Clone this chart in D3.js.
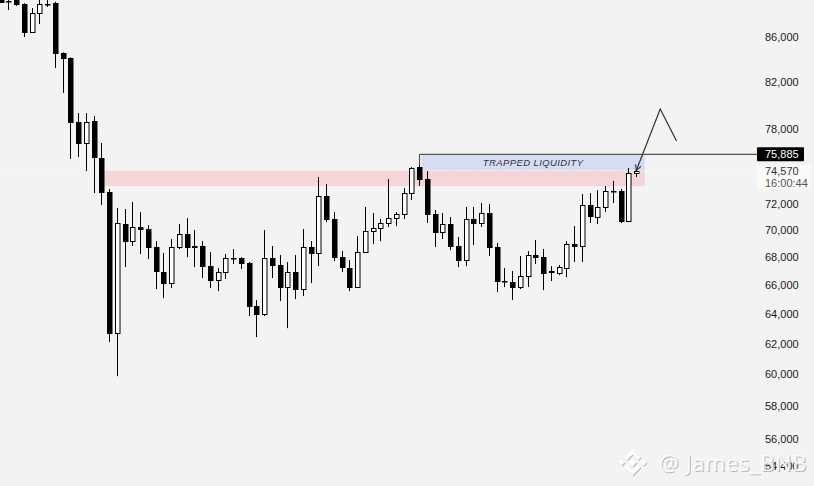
<!DOCTYPE html>
<html>
<head>
<meta charset="utf-8">
<script src="https://cdnjs.cloudflare.com/ajax/libs/d3/7.8.5/d3.min.js"></script>
<style>
body { margin: 0; background: #f3f3f3; }
svg { display: block; }
</style>
</head>
<body>
<div id="chart"></div>
<script>
var w = 814;
var h = 486;

// candles (one per bar, left to right)
var opens = [
  89850, 89400, 90030, 89080, 86460, 88230, 89080, 89180, 84550, 84100,
  78540, 76800, 78630, 75580, 72890, 62710, 70440, 69170, 70220, 70070,
  68730, 66930, 66140, 68730, 69690, 68810, 68810, 67350, 66360, 66930,
  67930, 67930, 67570, 64540, 63990, 67930, 67430, 65860, 66930, 65720,
  68730, 68300, 72580, 70820, 68000, 67210, 65860, 68370, 69920, 70140,
  70520, 70890, 71200, 72810, 74860, 73910, 71200, 69840, 70440, 68810,
  67790, 70820, 70520, 71270, 68730, 66290, 66210, 65860, 66640, 68150,
  68000, 67000, 66850, 67210, 68950, 68810, 71890, 70970, 71730, 72970,
  72970, 70670, 74380
];
var highs = [
  90400, 89900, 90200, 89150, 88700, 89460, 89460, 89300, 84600, 84150,
  79300, 79300, 79050, 76800, 73120, 71660, 71580, 72120, 71350, 70370,
  69170, 68300, 69320, 70440, 70890, 69990, 69170, 68370, 67210, 68220,
  68590, 68000, 67650, 64950, 69990, 68810, 68150, 67640, 68150, 70070,
  69170, 74070, 73510, 71350, 68440, 67790, 69550, 71730, 71270, 70820,
  73910, 71350, 73200, 74860, 75020, 74540, 71500, 71270, 70970, 69470,
  71730, 71730, 72040, 71960, 69030, 67210, 67000, 68080, 68440, 69250,
  68590, 67350, 67430, 69170, 70290, 72730, 72810, 73040, 73360, 73750,
  73120, 74780, 74700
];
var lows = [
  89180, 88510, 88900, 86000, 86370, 87200, 88800, 83200, 81010, 75500,
  75660, 74540, 72810, 71890, 62110, 59890, 67280, 68810, 68220, 67860,
  65720, 65090, 65790, 68590, 68000, 67280, 66500, 65790, 65580, 66430,
  67500, 67140, 63860, 62440, 63860, 66500, 64880, 63040, 65020, 65230,
  66140, 67350, 70590, 67710, 66930, 65580, 65790, 68370, 68950, 69170,
  70220, 70290, 70820, 72270, 73360, 70520, 68730, 69320, 68510, 67280,
  67350, 68880, 70220, 68080, 65510, 65860, 64950, 65720, 65860, 67500,
  65650, 66290, 66710, 66570, 67640, 67640, 70520, 70440, 71350, 72040,
  70520, 70590, 74070
];
var closes = [
  89250, 89370, 89080, 86460, 88230, 89080, 89050, 84550, 84100, 78540,
  76800, 78540, 75660, 72890, 62710, 70520, 69170, 70220, 70070, 68730,
  67000, 66140, 68730, 69690, 68730, 68730, 67350, 66360, 66930, 67930,
  67960, 67570, 64540, 63990, 67930, 67430, 65860, 66930, 65720, 68730,
  68300, 72580, 70820, 68000, 67280, 65860, 68370, 69920, 70140, 70520,
  70890, 71200, 72810, 74780, 73910, 71200, 69840, 70440, 68810, 67790,
  70820, 70520, 71270, 68730, 66290, 66300, 65860, 66640, 68150, 68000,
  66850, 66960, 67280, 68950, 68810, 71890, 71040, 71730, 72970, 72990,
  70670, 74380, 74570
];

var tickValues = [86000, 82000, 78000, 72000, 70000, 68000, 66000, 64000, 62000, 60000, 58000, 56000, 54400];

// zones: [from bar, to bar, low price, high price]
var redZone = [13.2, 83.1, 73360, 74600];
var liquidityZone = [54.3, 83.1, 74600, 75885];
var liquidityLevel = 75885;
var liquidityFrom = 54;
var lastPrice = 74570;
var lastTime = '16:00:44';

// projected move drawn by hand
var projBars = [82, 85.1, 87.2];
var projPrices = [74570, 79640, 76970];

var x = d3.scaleLinear().domain([0, 82]).range([0.7, 636.2]);
var y = d3.scaleLog().domain([54400, 86000]).range([466.3, 37]);

var svg = d3.select('#chart').append('svg')
  .attr('width', w)
  .attr('height', h)
  .style('font-family', '"Liberation Sans", Arial, sans-serif');

svg.append('rect')
  .attr('width', w)
  .attr('height', h)
  .attr('fill', '#f3f3f3');

// zones
svg.append('rect')
  .attr('x', x(redZone[0]))
  .attr('y', y(redZone[3]))
  .attr('width', x(redZone[1]) - x(redZone[0]))
  .attr('height', y(redZone[2]) - y(redZone[3]))
  .attr('fill', '#f6d5d8');

svg.append('rect')
  .attr('x', x(liquidityZone[0]))
  .attr('y', y(liquidityZone[3]))
  .attr('width', x(liquidityZone[1]) - x(liquidityZone[0]))
  .attr('height', y(liquidityZone[2]) - y(liquidityZone[3]))
  .attr('fill', '#d7dcf5');

svg.append('text')
  .attr('x', (x(liquidityZone[0]) + x(liquidityZone[1])) / 2)
  .attr('y', (y(liquidityZone[2]) + y(liquidityZone[3])) / 2 + 3.5)
  .attr('text-anchor', 'middle')
  .attr('font-size', '9.5px')
  .attr('font-style', 'italic')
  .attr('letter-spacing', '0.4px')
  .attr('fill', '#333')
  .text('TRAPPED LIQUIDITY');

// last price dotted line
svg.append('line')
  .attr('x1', 0)
  .attr('x2', 757)
  .attr('y1', y(lastPrice))
  .attr('y2', y(lastPrice))
  .attr('stroke', '#ffffff')
  .attr('stroke-width', 1)
  .attr('stroke-dasharray', '1,2');

// candles
var idx = d3.range(opens.length);
function px(i) { return Math.round(x(i)); }
function py(v) { return Math.round(y(v)) + 0.5; }

svg.append('g').selectAll('line')
  .data(idx)
  .enter()
  .append('line')
  .attr('x1', function(i) { return px(i) + 0.5; })
  .attr('x2', function(i) { return px(i) + 0.5; })
  .attr('y1', function(i) { return y(highs[i]); })
  .attr('y2', function(i) { return y(lows[i]); })
  .attr('stroke', '#000')
  .attr('stroke-width', 1);

svg.append('g').selectAll('rect')
  .data(idx)
  .enter()
  .append('rect')
  .attr('x', function(i) { return px(i) - 1.5; })
  .attr('y', function(i) { return py(Math.max(opens[i], closes[i])); })
  .attr('width', 4.5)
  .attr('height', function(i) {
    return Math.max(0.5, py(Math.min(opens[i], closes[i])) - py(Math.max(opens[i], closes[i])));
  })
  .attr('fill', function(i) {
    return closes[i] < opens[i] ? '#000' : '#fff';
  })
  .attr('stroke', '#000')
  .attr('stroke-width', 1);

// liquidity level line
var ly = y(liquidityLevel);
svg.append('line')
  .attr('x1', px(liquidityFrom) + 0.5)
  .attr('x2', 757)
  .attr('y1', ly)
  .attr('y2', ly)
  .attr('stroke', '#555')
  .attr('stroke-width', 1.2);
svg.append('line')
  .attr('x1', px(liquidityFrom) + 0.5)
  .attr('x2', px(liquidityFrom) + 0.5)
  .attr('y1', ly)
  .attr('y2', y(highs[liquidityFrom]))
  .attr('stroke', '#555')
  .attr('stroke-width', 1.2);

// projection
svg.append('defs').append('marker')
  .attr('id', 'arrow')
  .attr('viewBox', '0 0 10 10')
  .attr('refX', 9)
  .attr('refY', 5)
  .attr('markerWidth', 6)
  .attr('markerHeight', 6)
  .attr('orient', 'auto-start-reverse')
  .append('path')
  .attr('d', 'M1,1 L9,5 L1,9')
  .attr('fill', 'none')
  .attr('stroke', '#333')
  .attr('stroke-width', 1.5);

var proj = d3.line()
  .x(function(d) { return x(d); })
  .y(function(d, i) { return y(projPrices[i]); });

svg.append('path')
  .attr('d', proj(projBars))
  .attr('fill', 'none')
  .attr('stroke', '#333')
  .attr('stroke-width', 1.2)
  .attr('marker-start', 'url(#arrow)');

// price axis
var axis = d3.axisRight(y)
  .tickValues(tickValues)
  .tickFormat(d3.format(','))
  .tickSize(0)
  .tickPadding(0);

var ax = svg.append('g')
  .attr('transform', 'translate(765,0)')
  .call(axis);
ax.select('.domain').remove();
ax.selectAll('text')
  .attr('font-size', '11px')
  .attr('font-family', '"Liberation Sans", Arial, sans-serif')
  .attr('fill', '#1a1a1a');

// level label
svg.append('rect')
  .attr('x', 757)
  .attr('y', ly - 7)
  .attr('width', 47)
  .attr('height', 14)
  .attr('rx', 1)
  .attr('fill', '#000');
svg.append('text')
  .attr('x', 765)
  .attr('y', ly + 4)
  .attr('font-size', '11px')
  .attr('fill', '#fff')
  .text(d3.format(',')(liquidityLevel));

// last price label
var lpy = y(lastPrice);
svg.append('rect')
  .attr('x', 757)
  .attr('y', lpy - 5.5)
  .attr('width', 53)
  .attr('height', 24)
  .attr('fill', '#fafafa');
svg.append('text')
  .attr('x', 765)
  .attr('y', lpy + 4)
  .attr('font-size', '11px')
  .attr('fill', '#333')
  .text(d3.format(',')(lastPrice));
svg.append('text')
  .attr('x', 765)
  .attr('y', lpy + 16)
  .attr('font-size', '11px')
  .attr('fill', '#555')
  .text(lastTime);

// watermark
var wm = svg.append('g');
function logo(g, cx, cy, col) {
  var d = 'M' + cx + ',' + (cy - 4) + ' L' + (cx + 4) + ',' + cy + ' L' + cx + ',' + (cy + 4) + ' L' + (cx - 4) + ',' + cy + 'Z';
  d += 'M' + (cx - 11) + ',' + (cy - 3) + ' l3,3 l-3,3 l-3,-3Z';
  d += 'M' + (cx + 11) + ',' + (cy - 3) + ' l3,3 l-3,3 l-3,-3Z';
  d += 'M' + (cx - 8) + ',' + (cy - 5) + ' L' + cx + ',' + (cy - 13) + ' L' + (cx + 8) + ',' + (cy - 5) + ' l-2.5,2.5 L' + cx + ',' + (cy - 8) + ' l-5.5,5.5Z';
  d += 'M' + (cx - 8) + ',' + (cy + 5) + ' L' + cx + ',' + (cy + 13) + ' L' + (cx + 8) + ',' + (cy + 5) + ' l-2.5,-2.5 L' + cx + ',' + (cy + 8) + ' l-5.5,-5.5Z';
  g.append('path').attr('d', d).attr('fill', col);
}
logo(wm, 633.5, 463.5, '#bdbdbd');
logo(wm, 632.5, 462.5, '#ffffff');

function mark(dx, col, op) {
  wm.append('text')
    .attr('x', 659 + dx)
    .attr('y', 471 + dx)
    .attr('font-family', '"Open Sans", "Noto Sans", sans-serif')
    .attr('font-size', '22px')
    .attr('letter-spacing', '0.6px')
    .attr('fill', col)
    .attr('fill-opacity', op)
    .text('@ James_BNB');
}
mark(1, '#b9b9b9', 1);
mark(0, '#ffffff', 0.9);
</script>
</body>
</html>
